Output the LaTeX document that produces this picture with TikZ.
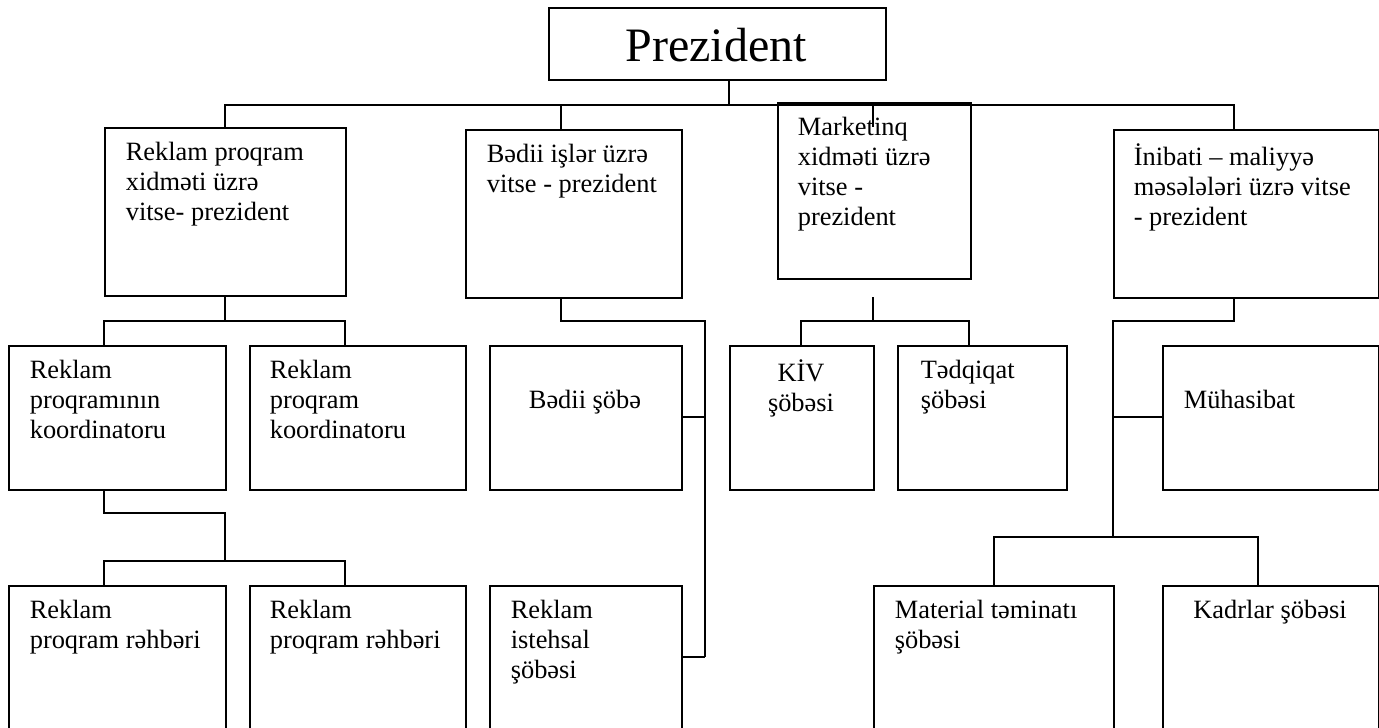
\documentclass[tikz,border=0pt]{standalone}
\usepackage{fontspec}
\setmainfont{Liberation Serif}
\begin{document}
\begin{tikzpicture}[x=1pt,y=-1pt,line width=1.6pt]
\tikzset{
  box/.style={draw, line width=1.6pt, inner sep=0pt, anchor=north west},
  lbl/.style={inner sep=0pt, font=\fontsize{26.4}{30}\selectfont, yshift=21pt},
  lblL/.style={lbl, anchor=north west, align=left},
  lblC/.style={lbl, anchor=north, align=center},
  wire/.style={draw, line width=1.6pt}
}
\useasboundingbox (0,0) rectangle (1379,728);
\clip (0,0) rectangle (1379,728);

% boxes
\node[box, minimum width=337pt, minimum height=72pt] (pres) at (548,7) {};
\node[box, minimum width=241pt, minimum height=168pt] (vp1) at (104,127) {};
\node[box, minimum width=216pt, minimum height=168pt] (vp2) at (465,129) {};
\node[box, minimum width=193pt, minimum height=176pt] (vp3) at (777,102) {};
\node[box, minimum width=265pt, minimum height=168pt] (vp4) at (1113,129) {};

\node[box, minimum width=217pt, minimum height=144pt] (ka) at (8,345) {};
\node[box, minimum width=216pt, minimum height=144pt] (kb) at (249,345) {};
\node[box, minimum width=192pt, minimum height=144pt] (bs) at (489,345) {};
\node[box, minimum width=144pt, minimum height=144pt] (kiv) at (729,345) {};
\node[box, minimum width=169pt, minimum height=144pt] (ted) at (897,345) {};
\node[box, minimum width=216pt, minimum height=144pt] (muh) at (1162,345) {};

\node[box, minimum width=217pt, minimum height=175pt] (ra) at (8,585) {};
\node[box, minimum width=216pt, minimum height=175pt] (rb) at (249,585) {};
\node[box, minimum width=192pt, minimum height=175pt] (ris) at (489,585) {};
\node[box, minimum width=240pt, minimum height=175pt] (mat) at (873,585) {};
\node[box, minimum width=216pt, minimum height=175pt] (kad) at (1162,585) {};

% texts
\node[inner sep=0pt, anchor=base, font=\fontsize{48}{56}\selectfont] (tpres) at (716,61) {Prezident};
\node[lblL] (t1) at (125,162) {Reklam proqram\\xidməti üzrə\\vitse- prezident};
\node[lblL] (t2) at (486,164) {Bədii işlər üzrə\\vitse - prezident};
\node[lblL] (t3) at (797,137) {Marketinq\\xidməti üzrə\\vitse -\\prezident};
\node[lblL] (t4) at (1133,164) {İnibati – maliyyə\\məsələləri üzrə vitse\\- prezident};

\node[lblL] (t5) at (29,380) {Reklam\\proqramının\\koordinatoru};
\node[lblL] (t6) at (269,380) {Reklam\\proqram\\koordinatoru};
\node[lblC] (t7) at (585,410) {Bədii şöbə};
\node[lblC] (t8) at (801,380) {KİV\\şöbəsi};
\node[lblL] (t9) at (920,380) {Tədqiqat\\şöbəsi};
\node[lblL] (t10) at (1183,410) {Mühasibat};

\node[lblL] (t11) at (29,620) {Reklam\\proqram rəhbəri};
\node[lblL] (t12) at (269,620) {Reklam\\proqram rəhbəri};
\node[lblL] (t13) at (510,620) {Reklam\\istehsal\\şöbəsi};
\node[lblL] (t14) at (894,620) {Material təminatı\\şöbəsi};
\node[lblC] (t15) at (1270,620) {Kadrlar şöbəsi};

% junction coordinates
\coordinate (pb) at (729,105);
\coordinate (bus1) at (225,105);
\coordinate (bus2) at (561,105);
\coordinate (bus3) at (873,102);
\coordinate (bus4) at (1234,105);
\coordinate (m3) at (873,127);

% top level
\draw[wire] (pb |- pres.south) -- (pb);
\draw[wire] (bus1 |- vp1.north) -- (bus1) -- (bus4) -- (bus4 |- vp4.north);
\draw[wire] (bus2) -- (bus2 |- vp2.north);
\draw[wire] (bus3) -- (m3);

% under vp1
\coordinate (j1) at (225,321);
\coordinate (j1a) at (104,321);
\coordinate (j1b) at (345,321);
\draw[wire] (vp1.south -| j1) -- (j1);
\draw[wire] (j1a |- ka.north) -- (j1a) -- (j1b) -- (j1b |- kb.north);

% under ka
\coordinate (j2) at (104,513);
\coordinate (j2b) at (225,513);
\coordinate (j3) at (225,561);
\coordinate (j3a) at (104,561);
\coordinate (j3b) at (345,561);
\draw[wire] (j2 |- ka.south) -- (j2) -- (j2b) -- (j3);
\draw[wire] (j3a |- ra.north) -- (j3a) -- (j3b) -- (j3b |- rb.north);

% under vp2
\coordinate (k1) at (561,321);
\coordinate (k2) at (705,321);
\coordinate (k3) at (705,417);
\coordinate (k4) at (705,657);
\draw[wire] (k1 |- vp2.south) -- (k1) -- (k2) -- (k4);
\draw[wire] (k3 -| bs.east) -- (k3);
\draw[wire] (k4 -| ris.east) -- (k4);

% under vp3
\coordinate (n0) at (873,297);
\coordinate (n1) at (873,321);
\coordinate (n1a) at (801,321);
\coordinate (n1b) at (969,321);
\draw[wire] (n0) -- (n1);
\draw[wire] (n1a |- kiv.north) -- (n1a) -- (n1b) -- (n1b |- ted.north);

% under vp4
\coordinate (p1) at (1234,321);
\coordinate (p2) at (1113,321);
\coordinate (p3) at (1113,417);
\coordinate (p4) at (1113,537);
\coordinate (p4a) at (994,537);
\coordinate (p4b) at (1258,537);
\draw[wire] (p1 |- vp4.south) -- (p1) -- (p2) -- (p4);
\draw[wire] (p3) -- (p3 -| muh.west);
\draw[wire] (p4a |- mat.north) -- (p4a) -- (p4b) -- (p4b |- kad.north);
\end{tikzpicture}
\end{document}
